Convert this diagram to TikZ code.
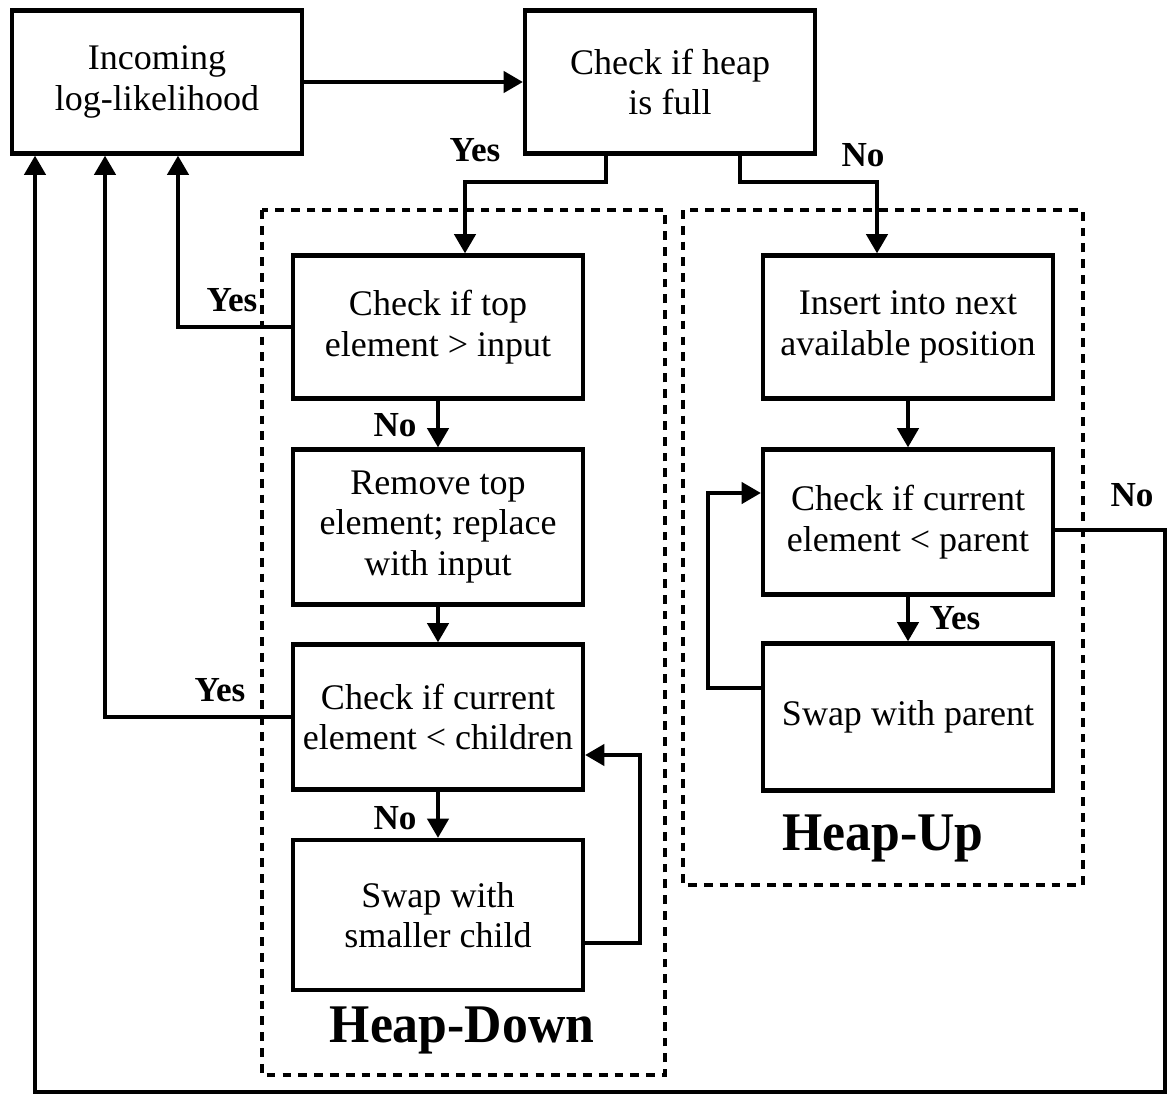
\documentclass[tikz,border=0pt]{standalone}
\usepackage{fontspec}
\setmainfont{Liberation Serif}
\newfontfamily\titlefont{Liberation Serif}[FakeStretch=0.95]
\usetikzlibrary{arrows.meta}
\begin{document}
\begin{tikzpicture}[x=0.02cm,y=-0.02cm,line join=miter,>={Triangle[width=12pt,length=11pt]}]
			\tikzset{box/.style={draw,line width=2.4pt,align=center,inner sep=2pt,minimum width=5.8cm,font=\fontsize{20.5}{23}\selectfont},
				arr/.style={->,line width=2.4pt},
				lbl/.style={font=\fontsize{20}{23}\selectfont\bfseries},
				dashbox/.style={line width=2.4pt,dash pattern=on 5pt off 4pt},
				title/.style={font=\fontsize{31}{36}\titlefont\bfseries}}
			\useasboundingbox (0,0) rectangle (1173,1099);
			% top row
			\node[box,minimum height=2.86cm] (incoming) at (157,82) {Incoming\\log-likelihood};
			\node[box,minimum height=2.86cm] (isfull) at (670,82) {Check if heap\\is full};
			% heap-down
			\node[box,minimum height=2.86cm] (checktop) at (438,327) {Check if top\\element > input};
			\node[box,minimum height=3.1cm] (removetop) at (438,527) {Remove top\\element; replace\\with input};
			\node[box,minimum height=2.9cm] (checkchild) at (438,717) {Check if current\\element < children};
			\node[box,minimum height=3cm] (swapchild) at (438,915) {Swap with\\smaller child};
			% heap-up
			\node[box,minimum height=2.86cm] (insert) at (908,327) {Insert into next\\available position};
			\node[box,minimum height=2.9cm] (checkparent) at (908,522) {Check if current\\element < parent};
			\node[box,minimum height=2.94cm] (swapparent) at (908,717) {Swap with parent};
			% groups
			\draw[dashbox] (262,210) rectangle (665,1075);
			\draw[dashbox] (683,210) rectangle (1083,885);
			\node[title] (hdown) at (462,1030) {Heap-Down};
			\node[title] (hup) at (883,838) {Heap-Up};
			% connectors
			\coordinate (yesbend) at (465,182);
			\coordinate (nobend) at (877,182);
			\coordinate (farright) at (1165,1092);
			\coordinate (farleft) at (35,1092);
			\draw[arr] (incoming) -- (isfull);
			\draw[arr] ([xshift=-1.28cm]isfull.south) |- (yesbend) -- (yesbend |- checktop.north);
			\draw[arr] ([xshift=1.4cm]isfull.south) |- (nobend) -- (nobend |- insert.north);
			\draw[arr] (checktop.west) -| ([xshift=0.42cm]incoming.south);
			\draw[arr] (checktop) -- (removetop);
			\draw[arr] (removetop) -- (checkchild);
			\draw[arr] (checkchild.west) -| ([xshift=-1.04cm]incoming.south);
			\draw[arr] (checkchild) -- (swapchild);
			\draw[arr] ([yshift=-0.56cm]swapchild.east) -- ++(1.1cm,0) |- ([yshift=-0.76cm]checkchild.east);
			\draw[arr] (insert) -- (checkparent);
			\draw[arr] (checkparent) -- (swapparent);
			\draw[arr] ([yshift=0.58cm]swapparent.west) -- ++(-1.06cm,0) |- ([yshift=0.58cm]checkparent.west);
			\draw[arr] ([yshift=-0.16cm]checkparent.east) -| (farright) -- (farleft) -- (farleft |- incoming.south);
			% labels
			\node[lbl] (yestop) at (475,150) {Yes};
			\node[lbl] (notop) at (863,155) {No};
			\node[lbl] (yesleft) at (232,300) {Yes};
			\node[lbl] (nocheck) at (395,425) {No};
			\node[lbl] (yeschild) at (220,690) {Yes};
			\node[lbl] (nochild) at (395,818) {No};
			\node[lbl] (yesparent) at (955,618) {Yes};
			\node[lbl] (noparent) at (1132,495) {No};
		\end{tikzpicture}
\end{document}
